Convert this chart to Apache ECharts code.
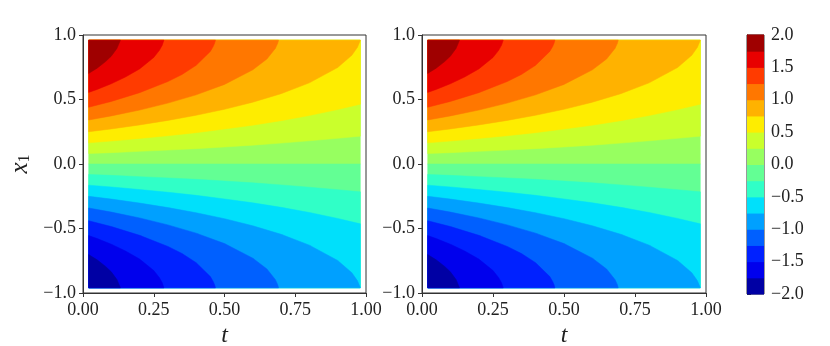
<!DOCTYPE html>
<html>
<head>
<meta charset="utf-8">
<script src="https://cdn.jsdelivr.net/npm/echarts@6.0.0/dist/echarts.min.js"></script>
<style>
  html, body { margin: 0; padding: 0; background: #fff; }
  #chart { width: 830px; height: 346px; }
</style>
</head>
<body>
<div id="chart"></div>
<script>
// contour levels and the jet colours of the 16 bands between them
const levels = [-2, -1.75, -1.5, -1.25, -1, -0.75, -0.5, -0.25, 0, 0.25, 0.5, 0.75, 1, 1.25, 1.5, 1.75, 2];
const bandColors = ['#0000a4', '#0000ed', '#0021ff', '#0060ff', '#00a0ff', '#00e0fb', '#30ffc7', '#63ff94',
  '#97ff60', '#caff2c', '#feed00', '#ffb200', '#ff7700', '#ff3b00', '#e80000', '#9f0000'];

// extent of the sampled field (t, x1)
const tStart = 0.02, tEnd = 0.98, xEdge = 0.96;

// level curves: [t, x1] from the left edge to where they leave the field
const curveZero = [[0.02, 0], [0.98, 0]];
const curveP025 = [[0.02, 0.081], [0.1, 0.088], [0.2, 0.098], [0.3, 0.108], [0.4, 0.119], [0.5, 0.132], [0.6, 0.146], [0.7, 0.162], [0.8, 0.180], [0.9, 0.199], [0.98, 0.216]];
const curveP050 = [[0.02, 0.164], [0.1, 0.178], [0.2, 0.198], [0.3, 0.219], [0.4, 0.243], [0.5, 0.271], [0.6, 0.301], [0.7, 0.336], [0.8, 0.376], [0.9, 0.422], [0.98, 0.464]];
const curveP075 = [[0.02, 0.250], [0.1, 0.272], [0.2, 0.303], [0.3, 0.338], [0.4, 0.378], [0.5, 0.424], [0.6, 0.479], [0.7, 0.545], [0.8, 0.629], [0.9, 0.748], [0.95, 0.843], [0.97, 0.906], [0.98, 0.96]];
const curveP100 = [[0.02, 0.341], [0.1, 0.373], [0.2, 0.418], [0.3, 0.472], [0.4, 0.536], [0.5, 0.617], [0.6, 0.730], [0.65, 0.814], [0.68, 0.897], [0.688, 0.936], [0.691, 0.96]];
const curveP125 = [[0.02, 0.440], [0.1, 0.485], [0.2, 0.553], [0.3, 0.639], [0.35, 0.694], [0.4, 0.765], [0.45, 0.873], [0.46, 0.910], [0.465, 0.936], [0.468, 0.96]];
const curveP150 = [[0.02, 0.555], [0.05, 0.578], [0.1, 0.622], [0.15, 0.674], [0.2, 0.737], [0.25, 0.826], [0.27, 0.881], [0.28, 0.921], [0.286, 0.96]];
const curveP175 = [[0.02, 0.702], [0.05, 0.743], [0.08, 0.794], [0.1, 0.836], [0.12, 0.896], [0.13, 0.947], [0.132, 0.96]];
const curveM025 = [[0.02, -0.081], [0.1, -0.088], [0.2, -0.098], [0.3, -0.108], [0.4, -0.119], [0.5, -0.132], [0.6, -0.146], [0.7, -0.162], [0.8, -0.180], [0.9, -0.199], [0.98, -0.216]];
const curveM050 = [[0.02, -0.164], [0.1, -0.178], [0.2, -0.198], [0.3, -0.219], [0.4, -0.243], [0.5, -0.271], [0.6, -0.301], [0.7, -0.336], [0.8, -0.376], [0.9, -0.422], [0.98, -0.464]];
const curveM075 = [[0.02, -0.250], [0.1, -0.272], [0.2, -0.303], [0.3, -0.338], [0.4, -0.378], [0.5, -0.424], [0.6, -0.479], [0.7, -0.545], [0.8, -0.629], [0.9, -0.748], [0.95, -0.843], [0.97, -0.906], [0.98, -0.96]];
const curveM100 = [[0.02, -0.341], [0.1, -0.373], [0.2, -0.418], [0.3, -0.472], [0.4, -0.536], [0.5, -0.617], [0.6, -0.730], [0.65, -0.814], [0.68, -0.897], [0.688, -0.936], [0.691, -0.96]];
const curveM125 = [[0.02, -0.440], [0.1, -0.485], [0.2, -0.553], [0.3, -0.639], [0.35, -0.694], [0.4, -0.765], [0.45, -0.873], [0.46, -0.910], [0.465, -0.936], [0.468, -0.96]];
const curveM150 = [[0.02, -0.555], [0.05, -0.578], [0.1, -0.622], [0.15, -0.674], [0.2, -0.737], [0.25, -0.826], [0.27, -0.881], [0.28, -0.921], [0.286, -0.96]];
const curveM175 = [[0.02, -0.702], [0.05, -0.743], [0.08, -0.794], [0.1, -0.836], [0.12, -0.896], [0.13, -0.947], [0.132, -0.96]];

// painted in order: [curve, side of the curve to fill (+1 above / -1 below), band index]
const layers = [
  [curveZero, 1, 8], [curveZero, -1, 7],
  [curveP025, 1, 9], [curveP050, 1, 10], [curveP075, 1, 11], [curveP100, 1, 12],
  [curveP125, 1, 13], [curveP150, 1, 14], [curveP175, 1, 15],
  [curveM025, -1, 6], [curveM050, -1, 5], [curveM075, -1, 4], [curveM100, -1, 3],
  [curveM125, -1, 2], [curveM150, -1, 1], [curveM175, -1, 0]
];

const font = 'Liberation Serif';
const ink = '#222';

function fmt1(v) {
  return v < 0 ? '\u2212' + Math.abs(v).toFixed(1) : v.toFixed(1);
}

function layerSeries(gi) {
  return {
    type: 'custom',
    xAxisIndex: gi,
    yAxisIndex: gi,
    clip: true,
    encode: { x: 0, y: 1 },
    data: layers.map(l => l[0][0]),
    renderItem: function (params, api) {
      const layer = layers[params.dataIndex];
      const curve = layer[0], side = layer[1];
      const last = curve[curve.length - 1];
      const pts = curve.concat([[last[0], side * xEdge], [tStart, side * xEdge]]);
      return {
        type: 'polygon',
        shape: { points: pts.map(p => api.coord(p)), smooth: 0 },
        style: { fill: bandColors[layer[2]], stroke: bandColors[layer[2]], lineWidth: 0.5 }
      };
    }
  };
}

function panelX(gi) {
  return {
    gridIndex: gi, type: 'value', min: 0, max: 1, interval: 0.25,
    axisLine: { show: true, onZero: false, lineStyle: { color: '#333', width: 1 } },
    axisTick: { show: true, length: 4, lineStyle: { color: '#333' } },
    splitLine: { show: false },
    axisLabel: { fontFamily: font, fontSize: 18, color: ink, margin: 8,
      showMinLabel: true, showMaxLabel: true, formatter: v => v.toFixed(2) },
    name: 't', nameLocation: 'middle', nameGap: 27,
    nameTextStyle: { fontFamily: font, fontStyle: 'italic', fontSize: 24, color: ink }
  };
}

function panelY(gi, withName) {
  const ax = {
    gridIndex: gi, type: 'value', min: -1, max: 1, interval: 0.5,
    axisLine: { show: true, onZero: false, lineStyle: { color: '#333', width: 1 } },
    axisTick: { show: true, length: 4, lineStyle: { color: '#333' } },
    splitLine: { show: false },
    axisLabel: { fontFamily: font, fontSize: 18, color: ink, margin: 7,
      showMinLabel: true, showMaxLabel: true, formatter: fmt1 }
  };
  if (withName) {
    ax.name = '{v|x}{s|1}';
    ax.nameLocation = 'middle';
    ax.nameGap = 50;
    ax.nameRotate = 90;
    ax.nameTextStyle = {
      rich: {
        v: { fontFamily: font, fontStyle: 'italic', fontSize: 25, color: ink },
        s: { fontFamily: font, fontSize: 16, color: ink, padding: [10, 0, 0, 0] }
      }
    };
  }
  return ax;
}

const gridBase = { show: true, borderColor: '#333', borderWidth: 1, backgroundColor: 'transparent',
  containLabel: false, outerBoundsMode: 'none' };

const option = {
  animation: false,
  backgroundColor: '#fff',
  grid: [
    Object.assign({ left: 83, top: 35, width: 283, height: 258 }, gridBase),
    Object.assign({ left: 422, top: 35, width: 284, height: 258 }, gridBase),
    Object.assign({ left: 747, top: 35, width: 17, height: 259 }, gridBase)
  ],
  xAxis: [
    panelX(0),
    panelX(1),
    { gridIndex: 2, type: 'value', min: 0, max: 1, show: false }
  ],
  yAxis: [
    panelY(0, true),
    panelY(1, false),
    {
      gridIndex: 2, type: 'value', min: -2, max: 2, interval: 0.5, position: 'right',
      axisLine: { show: true, lineStyle: { color: '#333', width: 1 } },
      axisTick: { show: true, length: 4, lineStyle: { color: '#333' } },
      splitLine: { show: false },
      axisLabel: { fontFamily: font, fontSize: 18, color: ink, margin: 7,
        showMinLabel: true, showMaxLabel: true, formatter: fmt1 }
    }
  ],
  series: [
    layerSeries(0),
    layerSeries(1),
    {
      type: 'custom',
      xAxisIndex: 2,
      yAxisIndex: 2,
      encode: { x: 0, y: [1, 2] },
      data: bandColors.map((c, i) => [0, levels[i], levels[i + 1]]),
      renderItem: function (params, api) {
        const a = api.coord([0, api.value(2)]);
        const b = api.coord([1, api.value(1)]);
        return {
          type: 'rect',
          shape: { x: a[0], y: a[1] - 0.5, width: b[0] - a[0], height: b[1] - a[1] + 1 },
          style: { fill: bandColors[params.dataIndex] }
        };
      }
    }
  ]
};

const chart = echarts.init(document.getElementById('chart'));
chart.setOption(option);
</script>
</body>
</html>
